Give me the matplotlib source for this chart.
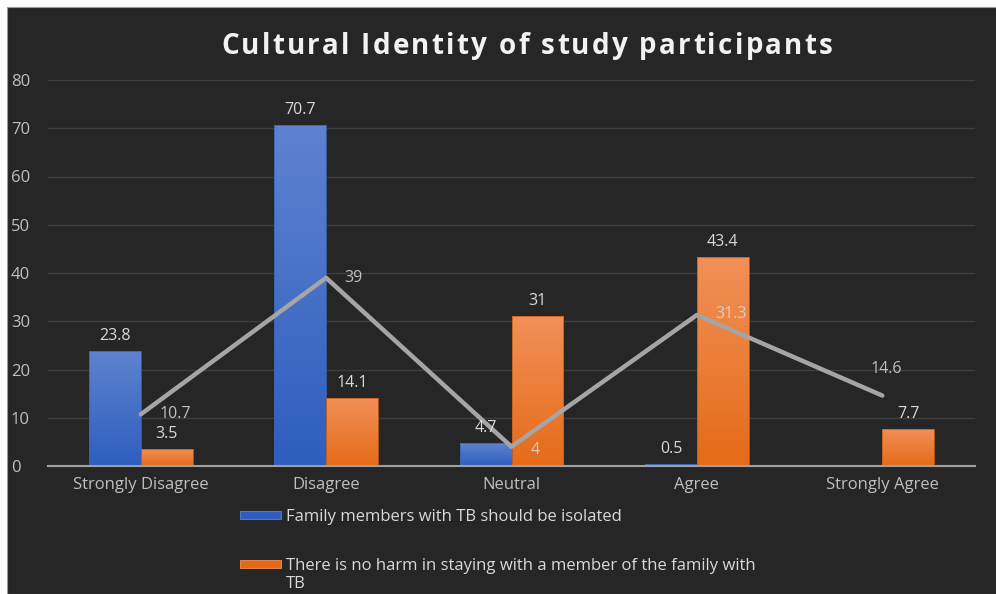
import numpy as np
import matplotlib
matplotlib.use("Agg")
import matplotlib.pyplot as plt
from matplotlib.patches import Rectangle
from matplotlib.colors import LinearSegmentedColormap

plt.rcParams['font.family'] = ['Open Sans', 'DejaVu Sans']

categories = ["Strongly Disagree", "Disagree", "Neutral", "Agree", "Strongly Agree"]
isolated = [23.8, 70.7, 4.7, 0.5, np.nan]
no_harm = [3.5, 14.1, 31, 43.4, 7.7]
line_vals = [10.7, 39, 4, 31.3, 14.6]
legend_labels = ["Family members with TB should be isolated",
                 "There is no harm in staying with a member of the family with\nTB"]
title = "Cultural Identity of study participants"

bg = '#262626'
txt = '#D9D9D9'
blue_top, blue_bot = '#5E82CF', '#2E5EBF'
orng_top, orng_bot = '#F19058', '#E56B18'

fig = plt.figure(figsize=(9.96, 5.94), dpi=100, facecolor='white')
fig.patches.append(Rectangle((7 / 996, 0), 1, 1 - 7 / 594, transform=fig.transFigure,
                             facecolor=bg, edgecolor='#9a9a9a', lw=0.8, zorder=-10))

ax = fig.add_axes([48 / 996, 1 - 466 / 594, 927 / 996, 386 / 594])
ax.set_facecolor(bg)
ax.patch.set_alpha(0)
ax.set_axisbelow(True)

x = np.arange(len(categories))
w = 0.28


def grad_bars(xs, vals, top, bot, edge):
    cmap = LinearSegmentedColormap.from_list('g', [bot, top])
    grad = np.linspace(0, 1, 100).reshape(-1, 1)
    bars = ax.bar(xs, np.nan_to_num(vals), w, color='none', edgecolor=edge, lw=0.6, zorder=2)
    for b, v in zip(bars, vals):
        if np.isnan(v) or v == 0:
            continue
        x0, h = b.get_x(), b.get_height()
        im = ax.imshow(grad, cmap=cmap, aspect='auto', origin='lower',
                       extent=[x0, x0 + w, 0, h], zorder=1.5)
        im.set_clip_path(b)
    return bars


b1 = grad_bars(x - w / 2, isolated, blue_top, blue_bot, '#3b62b0')
b2 = grad_bars(x + w / 2, no_harm, orng_top, orng_bot, '#c85e16')

ax.plot(x, line_vals, color='#A5A5A5', lw=3.2, solid_capstyle='round', zorder=3)

fs = 11.5
for xi, v in zip(x - w / 2, isolated):
    if not np.isnan(v):
        ax.annotate(f"{v:g}", (xi, v), xytext=(0, 7), textcoords='offset pixels',
                    ha='center', va='bottom', color=txt, fontsize=fs, zorder=4)
for xi, v in zip(x + w / 2, no_harm):
    ax.annotate(f"{v:g}", (xi, v), xytext=(0, 7), textcoords='offset pixels',
                ha='center', va='bottom', color=txt, fontsize=fs, zorder=4)

# line labels sit to the right of the points, last one above
offsets = [(19, 0), (18, 0), (19, -3), (18, 1), (4, 27)]
for xi, v, (dx, dy) in zip(x, line_vals, offsets):
    ax.annotate(f"{v:g}", (xi, v), xytext=(dx, dy), textcoords='offset pixels',
                ha='left' if dy < 20 else 'center', va='center', color=txt,
                alpha=0.85, fontsize=fs, zorder=4)

ax.set_xlim(-0.5, len(categories) - 0.5)
ax.set_ylim(0, 80)
ax.set_yticks(range(0, 81, 10))
ax.set_xticks(x)
ax.set_xticklabels(categories)
ax.tick_params(axis='both', length=0, colors='#BFBFBF', labelsize=12)
ax.tick_params(axis='x', pad=8)
ax.tick_params(axis='y', pad=0)
for lab in ax.get_yticklabels():
    lab.set_horizontalalignment('left')
    lab.set_x(-37 / 927)
ax.grid(axis='y', color='#3E3E3E', lw=1)
for s in ['top', 'right', 'left']:
    ax.spines[s].set_visible(False)
ax.spines['bottom'].set_color('#A0A0A0')
ax.spines['bottom'].set_linewidth(1.5)
ax.spines['bottom'].set_zorder(5)

# spaced-out bold title, drawn letter by letter
renderer = fig.canvas.get_renderer()
tkw = dict(color='#F2F2F2', fontsize=20, fontweight='bold', va='center', ha='left')
probe = fig.text(0, 0, title, **tkw)
full_w = probe.get_window_extent(renderer).width
probe.remove()
spacing = 2.3
start = 527 - (full_w + spacing * (len(title) - 1)) / 2
for i, ch in enumerate(title):
    if i:
        p = fig.text(0, 0, title[:i], **tkw)
        off = p.get_window_extent(renderer).width
        p.remove()
    else:
        off = 0
    fig.text((start + off + spacing * i) / 996, 1 - 46 / 594, ch, **tkw)

# legend below the axis
leg_y = [515, 564]
for (top, bot), y, label in zip([(blue_top, blue_bot), (orng_top, orng_bot)], leg_y, legend_labels):
    fig.patches.append(Rectangle((240 / 996, 1 - (y + 4) / 594), 41 / 996, 8 / 594,
                                 transform=fig.transFigure, facecolor=bot,
                                 edgecolor=top, lw=0.6))
    fig.text(286 / 996, 1 - (y - 6) / 594, label, ha='left', va='top',
             color=txt, fontsize=12, linespacing=1.2)

fig.savefig('out.png', dpi=100, facecolor=fig.get_facecolor())
